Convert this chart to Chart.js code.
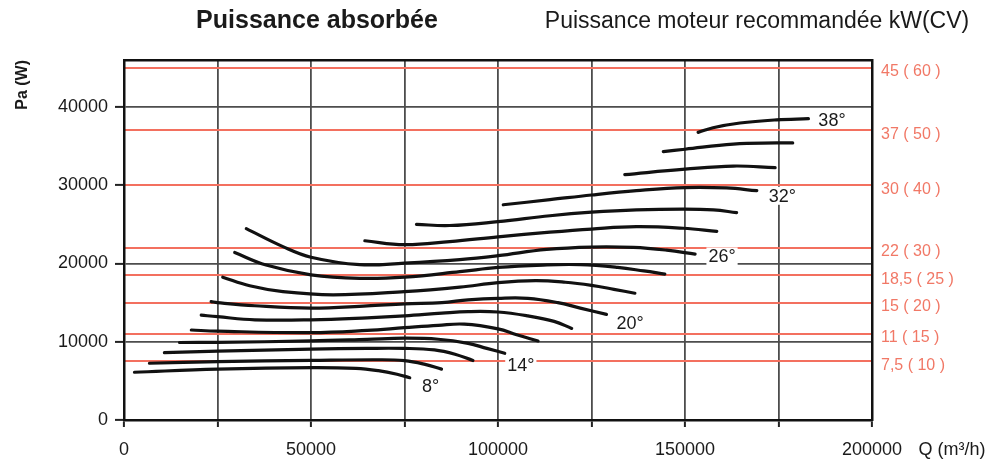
<!DOCTYPE html>
<html>
<head>
<meta charset="utf-8">
<title>Puissance absorbée</title>
<script src="https://cdn.jsdelivr.net/npm/chart.js@4.4.1/dist/chart.umd.min.js"></script>
<style>
    html, body { margin: 0; padding: 0; background: #fff; }
    #wrap { width: 1003px; height: 461px; position: relative; }
</style>
</head>
<body>
<div id="wrap"><canvas id="powerChart"></canvas></div>
<script>
// blade angle of each curve
const angles = [8, 10, 12, 14, 16, 18, 20, 22, 24, 26, 28, 30, 32, 34, 36, 38];

// flow Q (m3/h), same order as angles
const curveFlows = [
    [2800, 25000, 50000, 62000, 68000, 73000, 76400],
    [6800, 25000, 50000, 68000, 75000, 80500, 84900],
    [10800, 25000, 50000, 65000, 75000, 83000, 88500, 93300],
    [14850, 25000, 50000, 65000, 75000, 84000, 92000, 97000, 101800],
    [18000, 25000, 50000, 65000, 75000, 84000, 91000, 100000, 105000, 110700],
    [20650, 25000, 35000, 50000, 65000, 75000, 85000, 92000, 100000, 108000, 115000, 119700],
    [23300, 25000, 35000, 50000, 65000, 75000, 85000, 92000, 100000, 108000, 116000, 122000, 129000],
    [26400, 33600, 42500, 55900, 75000, 89800, 100000, 110000, 118000, 125000, 131000, 136600],
    [29600, 38000, 50000, 63000, 75000, 89800, 100000, 112000, 122000, 132000, 139000, 144600],
    [32700, 42500, 50000, 63000, 75000, 89800, 100000, 113000, 125000, 136200, 145100, 152700],
    [64400, 75000, 87100, 100000, 113900, 125000, 137000, 149500, 158500],
    [78200, 87100, 100000, 113900, 125000, 137000, 149500, 157600, 163800],
    [101400, 113900, 125000, 137000, 150000, 161100, 169200],
    [133900, 150000, 162900, 174100],
    [144200, 150000, 162900, 174500, 178800],
    [153500, 157500, 164700, 174500, 183000]
];

// absorbed power Pa (W) at those flows
const curvePowers = [
    [6100, 6500, 6700, 6600, 6300, 5850, 5400],
    [7250, 7450, 7620, 7700, 7580, 7100, 6500],
    [8600, 8800, 9050, 9150, 9150, 8950, 8400, 7600],
    [9900, 9930, 10100, 10300, 10450, 10320, 9800, 9150, 8530],
    [11500, 11350, 11170, 11450, 11800, 12100, 12250, 11650, 10900, 10100],
    [13400, 13200, 12800, 12800, 13050, 13300, 13650, 13850, 13800, 13300, 12600, 11700],
    [15130, 15000, 14600, 14300, 14580, 14850, 15000, 15350, 15550, 15550, 15000, 14300, 13500],
    [18250, 17150, 16400, 16000, 16400, 16970, 17550, 17800, 17600, 17200, 16700, 16200],
    [21400, 19800, 18550, 18100, 18250, 18950, 19500, 19800, 19850, 19500, 19050, 18650],
    [24450, 22150, 20800, 19850, 20050, 20500, 21000, 21800, 22100, 22050, 21700, 21200],
    [22900, 22400, 22800, 23400, 24000, 24400, 24700, 24500, 24100],
    [25000, 24850, 25350, 26100, 26550, 26850, 26950, 26850, 26500],
    [27500, 28150, 28750, 29300, 29700, 29650, 29300],
    [31350, 32050, 32450, 32250],
    [34300, 34600, 35250, 35400, 35400],
    [36750, 37350, 37950, 38350, 38500]
];

// curve labels and where they sit (Q, Pa)
const labelTexts = ['8°', '14°', '20°', '26°', '32°', '38°'];
const labelFlows = [82000, 106100, 135300, 159900, 176000, 189300];
const labelPowers = [4350, 6970, 12400, 20900, 28650, 38370];

// recommended motor power lines
const motorPowers = [45000, 37000, 30000, 22000, 18500, 15000, 11000, 7500];
const motorLabels = ['45 ( 60 )', '37 ( 50 )', '30 ( 40 )', '22 ( 30 )', '18,5 ( 25 )', '15 ( 20 )', '11 ( 15 )', '7,5 ( 10 )'];

// axis ticks
const flowTicks = [0, 25000, 50000, 75000, 100000, 125000, 150000, 175000, 200000];
const powerTicks = [0, 10000, 20000, 30000, 40000];

const FONT = '"Liberation Sans", Arial, Helvetica, sans-serif';
Chart.defaults.font.family = FONT;

const annotatePlugin = {
    id: 'annotate',
    afterDatasetsDraw(chart) {
        const { ctx } = chart;
        const x = chart.scales.x;
        const y = chart.scales.y;
        ctx.save();
        ctx.font = '18px ' + FONT;
        ctx.textAlign = 'center';
        ctx.textBaseline = 'middle';
        labelTexts.forEach((t, i) => {
            const px = x.getPixelForValue(labelFlows[i]);
            const py = y.getPixelForValue(labelPowers[i]);
            const w = ctx.measureText(t).width + 4;
            ctx.fillStyle = '#fff';
            ctx.fillRect(px - w / 2, py - 9, w, 18);
            ctx.fillStyle = '#1a1a1a';
            ctx.fillText(t, px, py + 1);
        });
        ctx.restore();
    },
    afterDraw(chart) {
        const { ctx } = chart;
        ctx.save();
        ctx.fillStyle = '#1a1a1a';
        ctx.textBaseline = 'middle';
        ctx.textAlign = 'center';
        ctx.font = 'bold 25px ' + FONT;
        ctx.fillText('Puissance absorbée', 317, 21);
        ctx.font = '23px ' + FONT;
        ctx.fillText('Puissance moteur recommandée kW(CV)', 757, 22);
        ctx.font = '18px ' + FONT;
        ctx.fillText('Q (m³/h)', 952, 450);
        ctx.restore();
    }
};

const curveDatasets = angles.map((a, i) => ({
    label: a + '°',
    data: curveFlows[i].map((q, j) => ({ x: q, y: curvePowers[i][j] })),
    borderColor: '#111',
    borderWidth: 3.2,
    borderCapStyle: 'round',
    pointRadius: 0,
    showLine: true,
    fill: false,
    tension: 0.4
}));

new Chart(document.getElementById('powerChart'), {
    type: 'scatter',
    data: { datasets: curveDatasets },
    plugins: [annotatePlugin],
    options: {
        responsive: true,
        maintainAspectRatio: false,
        animation: false,
        layout: { padding: { top: 60, left: 0, right: 0, bottom: 0 } },
        plugins: {
            legend: { display: false },
            tooltip: { enabled: false }
        },
        scales: {
            x: {
                type: 'linear',
                position: 'bottom',
                min: 0,
                max: 200000,
                afterBuildTicks: s => { s.ticks = flowTicks.map(v => ({ value: v })); },
                afterFit: s => { s.height = 41; },
                grid: { color: '#4d4d4d', lineWidth: 1.8, tickLength: 7, tickColor: '#222', tickWidth: 2 },
                border: { color: '#111', width: 2.5 },
                ticks: {
                    autoSkip: false,
                    maxRotation: 0,
                    padding: 12,
                    color: '#1a1a1a',
                    font: { size: 18 },
                    callback: v => (v % 50000 === 0 ? String(v) : '')
                }
            },
            xTop: {
                type: 'linear',
                position: 'top',
                min: 0,
                max: 200000,
                afterFit: s => { s.height = 0; },
                grid: { drawOnChartArea: false, drawTicks: false },
                border: { color: '#111', width: 2.5 },
                ticks: { display: false }
            },
            y: {
                type: 'linear',
                position: 'left',
                min: 0,
                max: 46000,
                afterBuildTicks: s => { s.ticks = powerTicks.map(v => ({ value: v })); },
                afterFit: s => { s.width = 124; },
                grid: { color: '#4d4d4d', lineWidth: 1.8, tickLength: 9, tickColor: '#222', tickWidth: 2 },
                border: { color: '#111', width: 2.5 },
                ticks: { padding: 7, color: '#1a1a1a', font: { size: 18 }, callback: v => String(v) },
                title: {
                    display: true,
                    text: 'Pa (W)',
                    align: 'end',
                    color: '#1a1a1a',
                    font: { size: 16, weight: 'bold' },
                    padding: { top: 13, bottom: 0 }
                }
            },
            yMotor: {
                type: 'linear',
                position: 'right',
                min: 0,
                max: 46000,
                afterBuildTicks: s => { s.ticks = motorPowers.map(v => ({ value: v })); },
                afterFit: s => { s.width = 131; },
                grid: { color: '#f3705f', lineWidth: 2, drawTicks: false, drawOnChartArea: true },
                border: { color: '#111', width: 2.5 },
                ticks: {
                    padding: 9,
                    labelOffset: 4,
                    color: '#f17866',
                    font: { size: 16 },
                    callback: v => motorLabels[motorPowers.indexOf(v)]
                }
            }
        }
    }
});
</script>
</body>
</html>
